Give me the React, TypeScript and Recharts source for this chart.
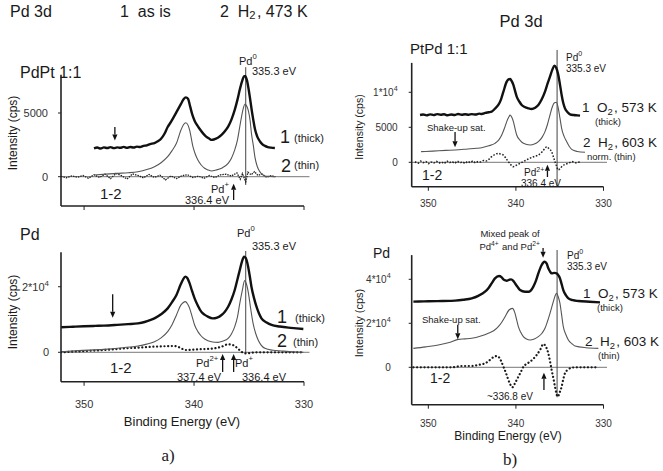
import React from 'react';
import { LineChart, Line, XAxis, YAxis, ReferenceLine } from 'recharts';

const W = 663;
const H = 471;
const FONT = '"Liberation Sans", Arial, Helvetica, sans-serif';
const SERIF = '"Liberation Serif", "Times New Roman", serif';

// ---------- Axis ticks ----------
const X_TICKS = [350, 340, 330];
const AT_YTICKS = [0, 5000];
const AT_YLABELS = ['0', '5000'];
const AB_YTICKS = [0, 20000];
const AB_YLABELS = ['0', '2*10^4'];
const BT_YTICKS = [0, 5000, 10000];
const BT_YLABELS = ['0', '5000', '1*10^4'];
const BB_YTICKS = [0, 20000, 40000];
const BB_YLABELS = ['0', '2*10^4', '4*10^4'];

// ---------- a) PdPt 1:1  (binding energy eV, intensity cps) ----------
const AT_THICK = [
  [349.1, 2230], [348.8, 2290], [348.5, 2210], [348.2, 2300], [347.9, 2250], [347.6, 2320], [347.3, 2240],
  [347.0, 2300], [346.7, 2270], [346.4, 2340], [346.1, 2260], [345.8, 2330], [345.5, 2290], [345.2, 2360],
  [344.9, 2330], [344.6, 2420], [344.3, 2460], [344.0, 2560], [343.6, 2640], [343.3, 2780], [343.0, 2980],
  [342.7, 3350], [342.4, 3900], [342.1, 4300], [341.8, 4750], [341.5, 5230], [341.2, 5700], [340.95, 6080],
  [340.75, 6230], [340.55, 6120], [340.35, 5500], [340.15, 4850], [339.95, 4400], [339.75, 4080], [339.5, 3760],
  [339.2, 3420], [338.9, 3150], [338.6, 2980], [338.4, 2890], [338.2, 2920], [338.0, 2990], [337.8, 3080],
  [337.5, 3280], [337.2, 3560], [336.9, 3930], [336.6, 4480], [336.3, 5240], [336.05, 6050], [335.85, 6800],
  [335.65, 7450], [335.45, 7880], [335.35, 7900], [335.2, 7600], [335.05, 6950], [334.9, 6100], [334.75, 5200],
  [334.6, 4400], [334.45, 3700], [334.25, 3150], [334.0, 2760], [333.8, 2560], [333.55, 2420], [333.3, 2330],
  [333.0, 2280], [332.65, 2250],
];
const AT_THIN = [
  [349.1, 130], [348.0, 200], [347.0, 260], [346.0, 310], [345.1, 395], [344.3, 560], [343.6, 790], [343.0, 1100],
  [342.4, 1570], [342.0, 2050], [341.6, 2620], [341.2, 3650], [340.95, 4100], [340.75, 4240], [340.55, 4050],
  [340.4, 3660], [340.1, 2360], [339.9, 1800], [339.65, 1310], [339.35, 920], [339.04, 660], [338.7, 520],
  [338.43, 450], [338.0, 520], [337.5, 660], [336.9, 1050], [336.6, 1450], [336.3, 2100], [336.05, 2900],
  [335.84, 3930], [335.65, 4850], [335.5, 5450], [335.37, 5710], [335.25, 5600], [335.08, 5240], [334.9, 4400],
  [334.78, 3400], [334.6, 2400], [334.47, 1570], [334.25, 800], [334.02, 400], [333.8, 180], [333.56, 60],
  [333.0, 20], [332.65, 0],
];
const AT_DIFF = [
  [352.1, 30], [351.6, -80], [351.1, 60], [350.6, -40], [350.1, 90], [349.6, -120], [349.1, 150], [348.6, -60],
  [348.1, 200], [347.6, -150], [347.1, 250], [346.6, 80], [346.1, -180], [345.6, 220], [345.1, 100], [344.6, -90],
  [344.1, 180], [343.6, -60], [343.1, 120], [342.6, -250], [342.1, 60], [341.6, -150], [341.1, 80], [340.6, 160],
  [340.1, -70], [339.6, 40], [339.1, -120], [338.6, 90], [338.1, -60], [337.6, 150], [337.1, 200], [336.6, 60],
  [336.1, 300], [335.8, -200], [335.6, 250], [335.3, -400], [335.1, 350], [334.8, 150], [334.5, 400], [334.2, 100],
  [333.8, 200], [333.4, -50], [333.0, 80], [332.6, 0],
];

// ---------- a) Pd ----------
const AB_THICK = [
  [352.1, 7620], [351.0, 7800], [350.0, 7950], [349.0, 8050], [348.2, 8120], [347.0, 8350], [346.0, 8580],
  [345.1, 8840], [344.5, 9250], [344.0, 9800], [343.6, 10360], [343.0, 11600], [342.4, 13400], [342.0, 15300],
  [341.6, 17500], [341.2, 20800], [341.0, 22200], [340.8, 23070], [340.6, 22600], [340.4, 21000], [340.2, 18900],
  [339.95, 16460], [339.65, 14200], [339.35, 12400], [339.05, 11500], [338.74, 10870], [338.3, 10360],
  [337.9, 10600], [337.5, 11380], [337.2, 12400], [336.9, 13900], [336.6, 16100], [336.3, 19000], [336.05, 22300],
  [335.84, 25100], [335.65, 27600], [335.45, 29170], [335.3, 28800], [335.08, 26100], [334.93, 23200],
  [334.78, 20000], [334.55, 16600], [334.32, 13900], [334.1, 11900], [333.87, 10360], [333.4, 9100],
  [332.95, 8330], [332.2, 7850], [331.4, 7510], [330.7, 7300], [330.06, 7110],
];
const AB_THIN = [
  [352.1, 190], [350.5, 520], [348.2, 900], [346.5, 1400], [345.1, 1920], [344.3, 2500], [343.6, 3240],
  [343.0, 4400], [342.4, 6300], [342.0, 8400], [341.6, 11400], [341.2, 14400], [341.0, 15100], [340.8, 15440],
  [340.6, 14800], [340.4, 13400], [340.2, 11200], [339.95, 8330], [339.65, 6300], [339.35, 4970], [339.0, 4000],
  [338.43, 3240], [337.82, 3040], [337.4, 3400], [336.9, 4260], [336.6, 5600], [336.3, 7820], [336.05, 10800],
  [335.84, 14900], [335.62, 18700], [335.4, 21850], [335.25, 21000], [335.05, 17990], [334.88, 14000],
  [334.63, 8840], [334.4, 5800], [334.17, 3750], [333.9, 2200], [333.56, 1210], [332.8, 600], [332.04, 400],
  [331.0, 150], [330.06, 0],
];
const AB_DIFF = [
  [352.1, 0], [351.0, 200], [350.0, 350], [349.0, 550], [348.2, 700], [347.0, 1000], [346.0, 1250], [345.1, 1410],
  [344.3, 1600], [343.6, 1720], [342.6, 1850], [341.8, 1920], [341.4, 1600], [341.17, 1210], [340.72, 700],
  [340.2, 800], [339.65, 900], [339.0, 1000], [338.13, 1210], [337.5, 1700], [336.9, 2430], [336.5, 2250],
  [336.3, 1920], [336.0, 1100], [335.7, 200], [335.25, -320], [334.8, -150], [334.47, 0], [333.0, 0],
  [331.0, 0], [330.06, 0],
];

// ---------- b) PtPd 1:1 ----------
const BT_THICK = [
  [350.95, 6760], [350.6, 6820], [350.2, 6700], [349.8, 6850], [349.4, 6740], [349.0, 6880], [348.6, 6790],
  [348.2, 6860], [347.8, 6720], [347.4, 6830], [347.0, 6760], [346.6, 6900], [346.2, 6800], [345.8, 6870],
  [345.4, 6790], [345.05, 6880], [344.6, 6820], [344.2, 6950], [343.9, 6900], [343.5, 7050], [343.1, 7150],
  [342.77, 7240], [342.4, 7650], [342.01, 8190], [341.7, 9000], [341.43, 10090], [341.05, 11520], [340.85, 11850],
  [340.67, 11900], [340.48, 11600], [340.29, 11050], [340.1, 10200], [339.91, 9380], [339.6, 8650], [339.34, 8190],
  [339.0, 7900], [338.58, 7710], [338.2, 7620], [337.8, 7800], [337.44, 8190], [337.05, 9000], [336.68, 10090],
  [336.4, 11200], [336.11, 12240], [335.85, 13200], [335.61, 13810], [335.4, 13500], [335.16, 12480],
  [334.97, 11100], [334.78, 9620], [334.6, 8500], [334.4, 7710], [334.1, 7150], [333.82, 6860], [333.4, 6750],
  [333.0, 6700], [332.68, 6660],
];
const BT_THIN = [
  [350.83, 1520], [349.5, 1600], [348.0, 1700], [346.95, 1760], [345.5, 1900], [344.5, 2000], [343.91, 2090],
  [343.1, 2350], [342.39, 2710], [341.95, 3200], [341.62, 3900], [341.3, 4900], [341.05, 5810], [340.8, 6500],
  [340.67, 6760], [340.5, 6500], [340.29, 5810], [340.1, 4800], [339.91, 3900], [339.5, 3100], [339.15, 2710],
  [338.39, 2470], [337.9, 2600], [337.44, 2950], [337.0, 3600], [336.68, 4380], [336.4, 5400], [336.11, 6760],
  [335.85, 7900], [335.6, 8500], [335.38, 8570], [335.16, 7710], [334.97, 6300], [334.78, 4850], [334.5, 3700],
  [334.2, 2950], [333.9, 2250], [333.63, 1850], [333.0, 1550], [332.11, 1430],
];
const BT_DIFF = [
  [351.52, 90], [351.2, -150], [350.9, 180], [350.6, -60], [350.3, 120], [350.0, -200], [349.7, 60], [349.4, -120],
  [349.1, 150], [348.8, -90], [348.5, 40], [348.2, -180], [347.9, 200], [347.6, -50], [347.3, 100], [347.0, -140],
  [346.7, 160], [346.4, -80], [346.1, 60], [345.8, -160], [345.5, 140], [345.2, -40], [344.9, 190], [344.6, -90],
  [344.3, 120], [344.0, 60], [343.7, 250], [343.4, 180], [343.1, 420], [342.77, 800], [342.4, 1100], [342.01, 1280],
  [341.7, 1150], [341.43, 1040], [341.1, 500], [340.86, 90], [340.55, -400], [340.29, -620], [340.0, -450],
  [339.53, -150], [339.0, 200], [338.58, 470], [338.0, 800], [337.44, 1040], [337.0, 1500], [336.68, 2000],
  [336.49, 2230], [336.2, 1900], [335.92, 1520], [335.7, 700], [335.54, 90], [335.35, -600], [335.16, -1100],
  [334.95, -900], [334.78, -620], [334.4, -300], [334.01, -150], [333.6, 100], [333.2, -80], [332.87, 0],
  [332.68, 40],
];

// ---------- b) Pd ----------
const BB_THICK = [
  [351.71, 29830], [350.5, 29950], [349.0, 30100], [347.5, 30200], [346.95, 30290], [346.0, 30700],
  [345.05, 31350], [344.3, 32500], [343.53, 34370], [343.1, 36200], [342.77, 38160], [342.39, 40440],
  [341.93, 41500], [341.65, 41000], [341.43, 39980], [341.2, 39500], [341.05, 39370], [340.8, 39700],
  [340.56, 39980], [340.3, 39300], [340.1, 38160], [339.8, 36500], [339.53, 35130], [338.96, 34370],
  [338.5, 34370], [338.01, 36650], [337.7, 39500], [337.44, 42710], [337.06, 46500], [336.75, 48010],
  [336.5, 47200], [336.3, 44980], [336.1, 43500], [335.92, 42710], [335.6, 42900], [335.35, 42710],
  [335.15, 41800], [334.97, 40440], [334.78, 37800], [334.59, 35130], [334.3, 32800], [334.01, 31350],
  [333.5, 30500], [332.87, 30130], [331.6, 29800], [330.4, 29530],
];
const BB_THIN = [
  [351.71, 8620], [350.3, 9300], [348.86, 10140], [347.5, 11400], [346.57, 12710], [345.8, 12900],
  [345.05, 13170], [344.0, 14200], [343.15, 15440], [342.5, 16700], [342.01, 18470], [341.6, 20600],
  [341.24, 23010], [340.79, 26040], [340.41, 26800], [340.1, 24530], [339.9, 21300], [339.72, 18470],
  [339.45, 15900], [339.15, 13920], [338.8, 12900], [338.39, 12410], [337.9, 12900], [337.44, 13920],
  [337.0, 15600], [336.68, 17710], [336.4, 20800], [336.11, 24530], [335.73, 29830], [335.5, 32800],
  [335.35, 33620], [335.15, 31800], [334.97, 29070], [334.78, 23800], [334.59, 18470], [334.3, 14900],
  [334.01, 12410], [333.6, 10700], [333.25, 9680], [332.0, 8900], [330.59, 8620],
];
const BB_DIFF = [
  [351.71, 0], [350.5, 0], [349.0, 0], [347.33, 0], [346.19, 590], [345.05, 590], [344.3, 1100], [343.53, 1800],
  [343.1, 2900], [342.77, 4080], [342.12, 5140], [341.75, 3300], [341.43, 290], [341.1, -3000], [340.86, -5770],
  [340.62, -8000], [340.41, -9100], [340.1, -7200], [339.72, -4260], [339.4, -1800], [339.15, 290], [338.8, 1500],
  [338.39, 2560], [338.0, 3900], [337.63, 5590], [337.2, 8200], [336.87, 10590], [336.6, 9500], [336.3, 6350],
  [336.1, 2600], [335.92, -1230], [335.72, -5000], [335.54, -8800], [335.23, -13350], [335.0, -11400],
  [334.78, -8800], [334.6, -5500], [334.4, -2740], [334.0, -900], [333.63, -170], [333.0, 0], [331.5, 0],
  [330.59, 0],
];

const pts = (arr: number[][]) => arr.map(([e, v]) => ({ e, v }));

type Kind = 'thick' | 'thin' | 'dots' | 'noisy' | 'fine';
const STYLE: Record<Kind, any> = {
  thick: { stroke: '#111', strokeWidth: 2.4, type: 'monotone' },
  thin: { stroke: '#555', strokeWidth: 1.1, type: 'monotone' },
  dots: { stroke: '#1a1a1a', strokeWidth: 2.2, type: 'monotone', strokeDasharray: '0.1 3.6', strokeLinecap: 'round' },
  noisy: { stroke: '#222', strokeWidth: 1.3, type: 'linear', strokeDasharray: '1.5 1' },
  fine: { stroke: '#222', strokeWidth: 1.5, type: 'monotone', strokeDasharray: '1.6 1.6' },
};

const ArrowShape = (props: any) => {
  const { x1, y1, x2, y2 } = props;
  const dx = x2 - x1;
  const dy = y2 - y1;
  const len = Math.hypot(dx, dy) || 1;
  const ux = dx / len;
  const uy = dy / len;
  const hl = 6;
  const hw = 2.6;
  const bx = x2 - ux * hl;
  const by = y2 - uy * hl;
  return (
    <g>
      <line x1={x1} y1={y1} x2={bx} y2={by} stroke="#111" strokeWidth={1.3} />
      <polygon points={`${x2},${y2} ${bx - uy * hw},${by + ux * hw} ${bx + uy * hw},${by - ux * hw}`} fill="#111" />
    </g>
  );
};

const makeYTick = (ticks: number[], labels: string[], fs: number) => (p: any) => {
  const idx = ticks.indexOf(p.payload.value);
  const lab = idx >= 0 ? labels[idx] : String(p.payload.value);
  const parts = lab.split('^');
  return (
    <text x={p.x} y={p.y} textAnchor="end" dominantBaseline="central" fontSize={fs} fill="#333" fontFamily={FONT}>
      {parts[0]}
      {parts[1] ? (
        <tspan dy={-4} fontSize={fs * 0.72}>
          {parts[1]}
        </tspan>
      ) : null}
    </text>
  );
};

const makeXTick = (fs: number, show: boolean) => (p: any) =>
  show ? (
    <text x={p.x} y={p.y} textAnchor="middle" dominantBaseline="central" fontSize={fs} fill="#333" fontFamily={FONT}>
      {p.payload.value}
    </text>
  ) : (
    <g />
  );

interface PanelCfg {
  left: number; right: number; top: number; bottom: number;
  xDomain: [number, number]; yDomain: [number, number];
  yTicks: number[]; yLabels: string[]; yFs: number; yTickMargin: number;
  xShow: boolean; xFs: number; xTickMargin: number;
  lines: { data: number[][]; kind: Kind }[];
  zero: [number, number];
  vline: [number, number];
  arrows: { x: number; from: number; to: number }[];
}

const PANELS: PanelCfg[] = [
  {
    left: 61, right: 304, top: 74.8, bottom: 206,
    xDomain: [330, 352.1], yDomain: [-2300, 8000],
    yTicks: AT_YTICKS, yLabels: AT_YLABELS, yFs: 11, yTickMargin: 10,
    xShow: false, xFs: 11, xTickMargin: 12,
    lines: [{ data: AT_DIFF, kind: 'noisy' }, { data: AT_THIN, kind: 'thin' }, { data: AT_THICK, kind: 'thick' }],
    zero: [352.1, 329.5],
    vline: [8600, -650],
    arrows: [{ x: 347.2, from: 3900, to: 2850 }, { x: 336.4, from: -1830, to: -560 }],
  },
  {
    left: 61, right: 304, top: 252.3, bottom: 381.8,
    xDomain: [330, 352.1], yDomain: [-9000, 30500],
    yTicks: AB_YTICKS, yLabels: AB_YLABELS, yFs: 11, yTickMargin: 9,
    xShow: true, xFs: 11, xTickMargin: 18,
    lines: [{ data: AB_DIFF, kind: 'dots' }, { data: AB_THIN, kind: 'thin' }, { data: AB_THICK, kind: 'thick' }],
    zero: [352.1, 329.5],
    vline: [30900, -300],
    arrows: [
      { x: 347.4, from: 17700, to: 10500 },
      { x: 337.4, from: -6000, to: -500 },
      { x: 336.4, from: -6000, to: -500 },
    ],
  },
  {
    left: 411.7, right: 603.5, top: 62.9, bottom: 186.8,
    xDomain: [330, 351.9], yDomain: [-3500, 14200],
    yTicks: BT_YTICKS, yLabels: BT_YLABELS, yFs: 10, yTickMargin: 11,
    xShow: true, xFs: 10, xTickMargin: 13,
    lines: [{ data: BT_DIFF, kind: 'fine' }, { data: BT_THIN, kind: 'thin' }, { data: BT_THICK, kind: 'thick' }],
    zero: [351.9, 329.6],
    vline: [16050, -3500],
    arrows: [{ x: 346.95, from: 4330, to: 2150 }, { x: 336.4, from: -2100, to: -350 }],
  },
  {
    left: 411.7, right: 603.5, top: 255.1, bottom: 404.7,
    xDomain: [330, 351.9], yDomain: [-17000, 51000],
    yTicks: BB_YTICKS, yLabels: BB_YLABELS, yFs: 10, yTickMargin: 18,
    xShow: true, xFs: 10, xTickMargin: 15,
    lines: [{ data: BB_DIFF, kind: 'dots' }, { data: BB_THIN, kind: 'thin' }, { data: BB_THICK, kind: 'thick' }],
    zero: [351.9, 329.6],
    vline: [53300, -13600],
    arrows: [
      { x: 346.64, from: 19300, to: 12700 },
      { x: 336.9, from: 54200, to: 49800 },
      { x: 336.8, from: -10300, to: -2500 },
    ],
  },
];

function renderPanel(c: PanelCfg, key: number) {
  const X_AXIS_H = 20;
  return (
    <div key={key} style={{ position: 'absolute', left: 0, top: 0, width: W, height: H }}>
      <LineChart
        width={W}
        height={H}
        margin={{ top: c.top, left: 0, right: W - c.right, bottom: H - c.bottom - X_AXIS_H }}
      >
        <XAxis
          type="number"
          dataKey="e"
          domain={c.xDomain}
          reversed
          allowDataOverflow
          ticks={X_TICKS}
          interval={0}
          height={X_AXIS_H}
          tickSize={4}
          tickMargin={c.xTickMargin}
          axisLine={{ stroke: '#222', strokeWidth: 1.6 }}
          tickLine={{ stroke: '#222', strokeWidth: 1 }}
          tick={makeXTick(c.xFs, c.xShow)}
        />
        <YAxis
          type="number"
          domain={c.yDomain}
          allowDataOverflow
          ticks={c.yTicks}
          interval={0}
          width={c.left}
          tickSize={3}
          tickMargin={c.yTickMargin}
          axisLine={{ stroke: '#222', strokeWidth: 1.6 }}
          tickLine={{ stroke: '#222', strokeWidth: 1 }}
          tick={makeYTick(c.yTicks, c.yLabels, c.yFs)}
        />
        <ReferenceLine
          segment={[{ x: c.zero[0], y: 0 }, { x: c.zero[1], y: 0 }]}
          stroke="#777"
          strokeWidth={1}
          ifOverflow="visible"
        />
        <ReferenceLine
          segment={[{ x: 335.3, y: c.vline[0] }, { x: 335.3, y: c.vline[1] }]}
          stroke="#444"
          strokeWidth={1}
          ifOverflow="visible"
        />
        {c.lines.map((l, i) => {
          const s = STYLE[l.kind];
          return (
            <Line
              key={'l' + i}
              data={pts(l.data)}
              dataKey="v"
              type={s.type}
              stroke={s.stroke}
              strokeWidth={s.strokeWidth}
              strokeDasharray={s.strokeDasharray}
              strokeLinecap={s.strokeLinecap}
              dot={false}
              activeDot={false}
              isAnimationActive={false}
            />
          );
        })}
        {c.arrows.map((a, i) => (
          <ReferenceLine
            key={'a' + i}
            segment={[{ x: a.x, y: a.from }, { x: a.x, y: a.to }]}
            ifOverflow="visible"
            shape={ArrowShape}
          />
        ))}
      </LineChart>
    </div>
  );
}

const T = (p: any) => (
  <text
    x={p.x}
    y={p.y}
    fontSize={p.fs}
    textAnchor={p.anchor || 'start'}
    dominantBaseline="central"
    fill={p.fill || '#1a1a1a'}
    fontFamily={p.family || FONT}
    transform={p.transform}
    style={{ whiteSpace: 'pre' }}
  >
    {p.children}
  </text>
);

const Sup = ({ t, fs, r = 0.42 }: { t: string; fs: number; r?: number }) => (
  <>
    <tspan dy={-fs * r} fontSize={fs * 0.7}>{t}</tspan>
    <tspan dy={fs * r}>{'\u200A'}</tspan>
  </>
);
const Sub = ({ t, fs }: { t: string; fs: number }) => (
  <>
    <tspan dy={fs * 0.28} fontSize={fs * 0.7}>{t}</tspan>
    <tspan dy={-fs * 0.28}>{'\u200A'}</tspan>
  </>
);

function Overlay() {
  return (
    <svg width={W} height={H} style={{ position: 'absolute', left: 0, top: 0, pointerEvents: 'none' }}>
      {/* headers */}
      <T x={10} y={11} fs={16}>Pd 3d</T>
      <T x={120} y={11} fs={16}>{'1  as is'}</T>
      <T x={220} y={11} fs={16}>
        {'2  H'}
        <Sub t="2" fs={16} />
        {', 473 K'}
      </T>
      <T x={521} y={21} fs={16.5} anchor="middle">Pd 3d</T>

      {/* a) top */}
      <T x={20} y={72} fs={16}>PdPt 1:1</T>
      <T x={13} y={133} fs={12} anchor="middle" transform="rotate(-90 13 133)">Intensity (cps)</T>
      <T x={239} y={61} fs={11}>Pd<Sup t="0" fs={11} /></T>
      <T x={252} y={71} fs={11}>335.3 eV</T>
      <T x={280} y={137} fs={18}>1</T>
      <T x={294} y={138} fs={11}>(thick)</T>
      <T x={281} y={166} fs={18}>2</T>
      <T x={294} y={165} fs={11}>(thin)</T>
      <T x={100} y={193} fs={15}>1-2</T>
      <T x={211} y={189} fs={11}>Pd<Sup t="+" fs={11} /></T>
      <T x={229} y={200} fs={11} anchor="end">336.4 eV</T>

      {/* a) bottom */}
      <T x={20} y={234} fs={16}>Pd</T>
      <T x={13} y={312} fs={12} anchor="middle" transform="rotate(-90 13 312)">Intensity (cps)</T>
      <T x={237} y={233} fs={11}>Pd<Sup t="0" fs={11} /></T>
      <T x={252} y={246} fs={11}>335.3 eV</T>
      <T x={277} y={317} fs={18}>1</T>
      <T x={295} y={318} fs={11}>(thick)</T>
      <T x={277} y={341} fs={18}>2</T>
      <T x={293} y={342} fs={11}>(thin)</T>
      <T x={110} y={367} fs={15}>1-2</T>
      <T x={196} y={363} fs={11}>Pd<Sup t="2+" fs={11} /></T>
      <T x={177} y={377} fs={11}>337.4 eV</T>
      <T x={235} y={363} fs={11}>Pd<Sup t="+" fs={11} /></T>
      <T x={242} y={377} fs={11}>336.4 eV</T>
      <T x={182} y={421} fs={13} anchor="middle">Binding Energy (eV)</T>
      <T x={168} y={455} fs={17} anchor="middle" family={SERIF}>a)</T>

      {/* b) top */}
      <T x={410} y={48} fs={15}>PtPd 1:1</T>
      <T x={359} y={127} fs={10.5} anchor="middle" transform="rotate(-90 359 127)">Intensity (cps)</T>
      <T x={566} y={57} fs={10}>Pd<Sup t="0" fs={10} /></T>
      <T x={566} y={68} fs={10}>335.3 eV</T>
      <T x={582} y={107} fs={13.5}>
        {'1  O'}
        <Sub t="2" fs={13.5} />
        {', 573 K'}
      </T>
      <T x={595} y={121} fs={9.5}>(thick)</T>
      <T x={583} y={142} fs={13.5}>
        {'2  H'}
        <Sub t="2" fs={13.5} />
        {', 603 K'}
      </T>
      <T x={587} y={156} fs={9.5}>norm. (thin)</T>
      <T x={427} y={127} fs={9.5}>Shake-up sat.</T>
      <T x={422} y={175} fs={14}>1-2</T>
      <T x={524} y={172} fs={10}>Pd<Sup t="2+" fs={10} r={0.35} /></T>
      <T x={521} y={183} fs={10}>336.4 eV</T>

      {/* b) bottom */}
      <T x={373} y={253} fs={14}>Pd</T>
      <T x={359} y={323} fs={11} anchor="middle" transform="rotate(-90 359 323)">Intensity (cps)</T>
      <T x={510} y={233} fs={9.5} anchor="middle">Mixed peak of</T>
      <T x={510} y={246} fs={9.5} anchor="middle">
        Pd<Sup t="4+" fs={9.5} r={0.3} /> and Pd<Sup t="2+" fs={9.5} r={0.3} />
      </T>
      <T x={567} y={255} fs={10}>Pd<Sup t="0" fs={10} /></T>
      <T x={567} y={266} fs={10}>335.3 eV</T>
      <T x={583} y={293} fs={13.5}>
        {'1  O'}
        <Sub t="2" fs={13.5} />
        {', 573 K'}
      </T>
      <T x={597} y={307} fs={9.5}>(thick)</T>
      <T x={585} y={341} fs={13.5}>
        {'2  H'}
        <Sub t="2" fs={13.5} />
        {', 603 K'}
      </T>
      <T x={598} y={355} fs={9.5}>(thin)</T>
      <T x={422} y={319} fs={9.5}>Shake-up sat.</T>
      <T x={430} y={378} fs={14}>1-2</T>
      <T x={487} y={396} fs={10}>~336.8 eV</T>
      <T x={508} y={436} fs={12} anchor="middle">Binding Energy (eV)</T>
      <T x={510} y={459} fs={17} anchor="middle" family={SERIF}>b)</T>
    </svg>
  );
}

export default function App() {
  return (
    <div style={{ position: 'absolute', left: 0, top: 0, width: W, height: H, background: '#fff', overflow: 'hidden' }}>
      {PANELS.map((p, i) => renderPanel(p, i))}
      <Overlay />
    </div>
  );
}
